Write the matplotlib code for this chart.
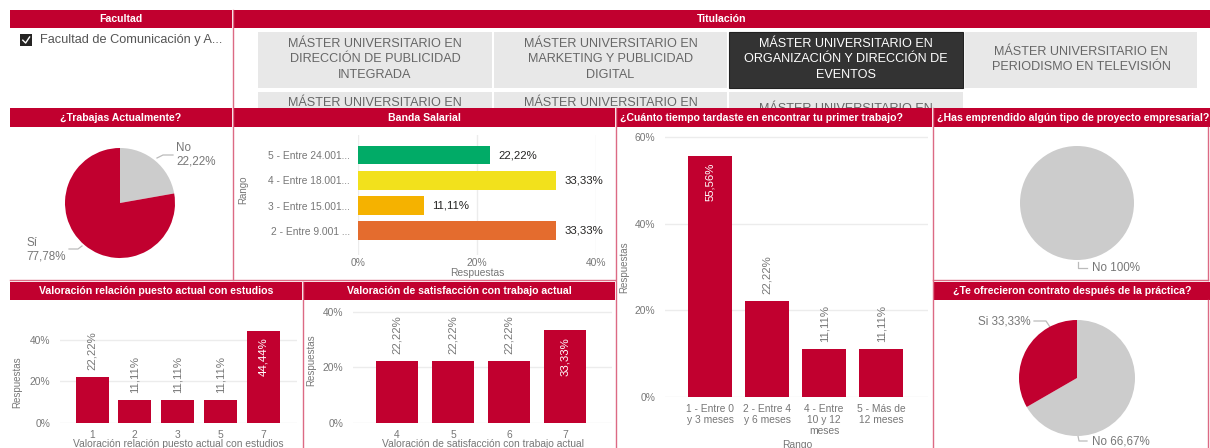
import matplotlib.pyplot as plt
from matplotlib.patches import Rectangle

plt.rcParams['font.family'] = ['Liberation Sans', 'DejaVu Sans']

W, H = 1210, 448
RED = '#c1002f'
GREY = '#cccccc'
PINK = '#dc6a84'
TXT = '#777777'

# ----------------------------------------------------------------------
# Data
# ----------------------------------------------------------------------

facultad = 'Facultad de Comunicación y A...'
titulaciones = ['MÁSTER UNIVERSITARIO EN\nDIRECCIÓN DE PUBLICIDAD\nINTEGRADA',
                'MÁSTER UNIVERSITARIO EN\nMARKETING Y PUBLICIDAD\nDIGITAL',
                'MÁSTER UNIVERSITARIO EN\nORGANIZACIÓN Y DIRECCIÓN DE\nEVENTOS',
                'MÁSTER UNIVERSITARIO EN\nPERIODISMO EN TELEVISIÓN']
titulacion_sel = 2

trabaja_cats = ['No', 'Sí']
trabaja_vals = [22.22, 77.78]

banda_cats = ['2 - Entre 9.001 ...', '3 - Entre 15.001...',
              '4 - Entre 18.001...', '5 - Entre 24.001...']
banda_vals = [33.33, 11.11, 33.33, 22.22]
banda_colors = ['#e46c2e', '#f5b200', '#f2e11c', '#01ab67']

tiempo_cats = ['1 - Entre 0\ny 3 meses', '2 - Entre 4\ny 6 meses',
               '4 - Entre\n10 y 12\nmeses', '5 - Más de\n12 meses']
tiempo_vals = [55.56, 22.22, 11.11, 11.11]

emprende_cats = ['No']
emprende_vals = [100.0]

relacion_cats = ['1', '2', '3', '5', '7']
relacion_vals = [22.22, 11.11, 11.11, 11.11, 44.44]

satisf_cats = ['4', '5', '6', '7']
satisf_vals = [22.22, 22.22, 22.22, 33.33]

contrato_cats = ['No', 'Si']
contrato_vals = [66.67, 33.33]


def pct(v):
    return ('%.2f%%' % v).replace('.', ',')


fig = plt.figure(figsize=(W / 100, H / 100), dpi=100)

# background layer in pixel coordinates
bg = fig.add_axes([0, 0, 1, 1])
bg.set_xlim(0, W)
bg.set_ylim(H, 0)
bg.axis('off')


def px_axes(x0, y0, x1, y1):
    ax = fig.add_axes([x0 / W, 1 - y1 / H, (x1 - x0) / W, (y1 - y0) / H])
    ax.set_facecolor('none')
    return ax


def rect(x0, y0, x1, y1, **kw):
    p = Rectangle((x0, y0), x1 - x0, y1 - y0, **kw)
    bg.add_patch(p)
    return p


def title_bar(x0, x1, y0, y1, text, ha='center'):
    rect(x0, y0, x1, y1, fc=RED, ec='none', zorder=3)
    tx = (x0 + x1) / 2 if ha == 'center' else x0 + 3
    bg.text(tx, (y0 + y1) / 2 + 0.5, text, color='white', fontsize=7.6,
            fontweight='bold', ha=ha, va='center', zorder=4)


# ----------------------------------------------------------------------
# Slicers
# ----------------------------------------------------------------------

title_bar(10, 232, 10, 28, 'Facultad')
title_bar(234, 1210, 10, 28, 'Titulación')

rect(20, 34, 32, 46, fc='#252423', ec='none')
bg.plot([22.8, 25.6, 29.6], [40.2, 43, 37], color='white', lw=1)
bg.text(40, 40, facultad, color='#555555', fontsize=9.2, va='center')

btn_x = [(258, 492), (494, 727), (729, 963), (965, 1197)]
for i, label in enumerate(titulaciones):
    x0, x1 = btn_x[i]
    sel = i == titulacion_sel
    rect(x0, 32, x1, 88, fc='#333333' if sel else '#e8e8e8',
         ec='#222222' if sel else 'none', lw=0.8, zorder=1)
    bg.text((x0 + x1) / 2, 59.5, label, color='white' if sel else '#666666',
            fontsize=9.1, ha='center', va='center', linespacing=1.36,
            zorder=2)

# second row of buttons, cut off by the panels below
row2_clip = rect(0, 88, W, 108, fc='none', ec='none')
for i, ytxt in zip(range(3), [103, 103, 108.5]):
    x0, x1 = btn_x[i]
    rect(x0, 92, x1, 108, fc='#e8e8e8', ec='none', zorder=1)
    t = bg.text((x0 + x1) / 2, ytxt, 'MÁSTER UNIVERSITARIO EN',
                color='#666666', fontsize=9.1, ha='center', va='center',
                zorder=2)
    t.set_clip_path(row2_clip)

# panel titles
title_bar(10, 232, 108, 127, '¿Trabajas Actualmente?')
title_bar(234, 615, 108, 127, 'Banda Salarial')
title_bar(617, 932, 108, 127,
          '¿Cuánto tiempo tardaste en encontrar tu primer trabajo?',
          ha='left')
title_bar(934, 1210, 108, 127,
          '¿Has emprendido algún tipo de proyecto empresarial?', ha='left')
title_bar(10, 302, 282, 300, 'Valoración relación puesto actual con estudios')
title_bar(304, 615, 282, 300, 'Valoración de satisfacción con trabajo actual')
title_bar(934, 1210, 282, 300, '¿Te ofrecieron contrato después de la práctica?')

# panel borders
for xs, ys in [([233, 233], [10, 280]), ([616, 616], [108, 448]),
               ([933, 933], [108, 448]), ([303, 303], [282, 448]),
               ([1208, 1208], [127, 280]), ([1208, 1208], [300, 448]),
               ([10, 615], [280.5, 280.5]), ([933, 1208], [280.5, 280.5])]:
    bg.plot(xs, ys, color=PINK, lw=1, zorder=5)


# ----------------------------------------------------------------------
# Pies
# ----------------------------------------------------------------------

def pie(cx, cy, r, vals, colors):
    ax = px_axes(cx - r, cy - r, cx + r, cy + r)
    ax.pie(vals, colors=colors, startangle=90, counterclock=False,
           wedgeprops=dict(linewidth=0))
    ax.set_xlim(-1, 1)
    ax.set_ylim(-1, 1)
    return ax


def leader(pts, text, tx, ty, ha='left'):
    xs, ys = zip(*pts)
    bg.plot(xs, ys, color='#bbbbbb', lw=0.9, zorder=6)
    return bg.text(tx, ty, text, color=TXT, fontsize=8.4, ha=ha,
                   va='center', linespacing=1.2, zorder=6)


pie(120, 203, 55, trabaja_vals, [GREY, RED])
leader([(157, 158), (163, 155), (173, 155)],
       '%s\n%s' % (trabaja_cats[0], pct(trabaja_vals[0])), 176, 155)
t = leader([(82, 246), (78, 249), (69, 249)],
           '%s\n%s' % (trabaja_cats[1], pct(trabaja_vals[1])), 66, 250,
           ha='right')
t.set_multialignment('left')

pie(1077, 203, 57, emprende_vals, [GREY])
leader([(1078, 262), (1078, 268), (1087, 268)],
       '%s %d%%' % (emprende_cats[0], emprende_vals[0]), 1092, 268)

pie(1077, 378, 58, contrato_vals, [GREY, RED])
leader([(1050, 327), (1046, 321), (1034, 321)],
       '%s %s' % (contrato_cats[1], pct(contrato_vals[1])), 1031, 321,
       ha='right')
leader([(1078, 436), (1079, 441), (1087, 441)],
       '%s %s' % (contrato_cats[0], pct(contrato_vals[0])), 1092, 441)


# ----------------------------------------------------------------------
# Bar charts
# ----------------------------------------------------------------------

def clean(ax):
    for s in ax.spines.values():
        s.set_visible(False)
    ax.tick_params(length=0, colors=TXT, labelsize=7.4)
    ax.set_axisbelow(True)


def column_chart(px, xlim, ylim, yticks, cats, vals, width):
    ax = px_axes(*px)
    x = list(range(len(cats)))
    ax.bar(x, vals, width=width, color=RED)
    ax.set_xlim(*xlim)
    ax.set_ylim(*ylim)
    ax.set_yticks(yticks)
    ax.set_yticklabels(['%d%%' % t for t in yticks])
    ax.set_xticks(x)
    ax.set_xticklabels(cats, linespacing=1.15)
    ax.grid(axis='y', color='#ececec', lw=1)
    clean(ax)
    ax.tick_params(axis='y', pad=7)
    ax.tick_params(axis='x', pad=5, labelsize=7.4)
    top = max(vals)
    for xi, v in zip(x, vals):
        if v == top:
            ax.annotate(pct(v), (xi, v), xytext=(0, -5),
                        textcoords='offset points', rotation=90,
                        ha='center', va='top', color='white', fontsize=8.2)
        else:
            ax.annotate(pct(v), (xi, v), xytext=(0, 5),
                        textcoords='offset points', rotation=90,
                        ha='center', va='bottom', color=TXT, fontsize=8.2)
    return ax


column_chart((665, 136, 928, 397), (-0.79, 3.82), (0, 60.2),
             [0, 20, 40, 60], tiempo_cats, tiempo_vals, 0.77)
bg.text(624, 267, 'Respuestas', rotation=90, color=TXT, fontsize=7,
        ha='center', va='center')
bg.text(797, 440, 'Rango', color=TXT, fontsize=7.4, ha='center', va='top')

column_chart((60, 319, 297, 423), (-0.75, 4.79), (0, 50.1),
             [0, 20, 40], relacion_cats, relacion_vals, 0.77)
bg.text(17, 382, 'Respuestas', rotation=90, color=TXT, fontsize=7,
        ha='center', va='center')
bg.text(178, 439, 'Valoración relación puesto actual con estudios',
        color=TXT, fontsize=7.4, ha='center', va='top')

column_chart((353, 310, 612, 423), (-0.786, 3.839), (0, 40.7),
             [0, 20, 40], satisf_cats, satisf_vals, 0.75)
bg.text(311, 360, 'Respuestas', rotation=90, color=TXT, fontsize=7,
        ha='center', va='center')
bg.text(483, 439, 'Valoración de satisfacción con trabajo actual',
        color=TXT, fontsize=7.4, ha='center', va='top')

# salary band, horizontal bars
ax = px_axes(358, 135, 596, 255)
y = list(range(len(banda_cats)))
ax.barh(y, banda_vals, height=0.75, color=banda_colors)
ax.set_xlim(0, 40)
ax.set_ylim(-0.95, 3.79)
ax.set_xticks([0, 20, 40])
ax.set_xticklabels(['0%', '20%', '40%'])
ax.set_yticks(y)
ax.set_yticklabels(banda_cats)
ax.grid(axis='x', color='#ececec', lw=1)
clean(ax)
ax.tick_params(axis='y', pad=6)
ax.tick_params(axis='x', pad=2)
for yi, v in zip(y, banda_vals):
    ax.annotate(pct(v), (v, yi), xytext=(6, 0), textcoords='offset points',
                ha='left', va='center', color='#252423', fontsize=8.2)
bg.text(243, 190, 'Rango', rotation=90, color=TXT, fontsize=7,
        ha='center', va='center')
bg.text(477, 273, 'Respuestas', color=TXT, fontsize=7.4, ha='center',
        va='center')

plt.savefig('out.png', dpi=100)
plt.close()
